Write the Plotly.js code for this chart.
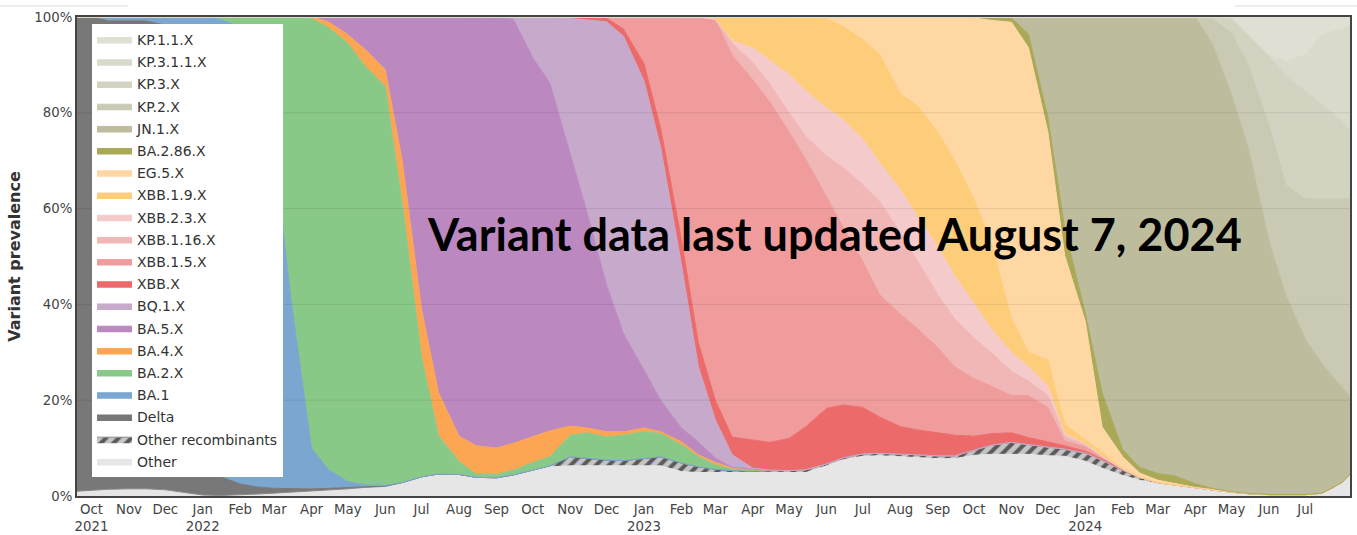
<!DOCTYPE html>
<html><head><meta charset="utf-8">
<script src="https://cdn.plot.ly/plotly-3.0.1.min.js"></script>
<style>html,body{margin:0;padding:0;background:#fff}#chart{width:1357px;height:535px}</style>
</head><body><div id="chart"></div>
<script>
const dates = [
'2021-09-19','2021-10-01','2021-10-15','2021-11-01','2021-11-15','2021-12-01','2021-12-15','2022-01-01','2022-01-15','2022-02-01',
'2022-02-15','2022-03-01','2022-03-15','2022-04-01','2022-04-15','2022-05-01','2022-05-15','2022-06-01','2022-06-15','2022-07-01',
'2022-07-15','2022-08-01','2022-08-15','2022-09-01','2022-09-15','2022-10-01','2022-10-15','2022-11-01','2022-11-15','2022-12-01',
'2022-12-15','2023-01-01','2023-01-15','2023-02-01','2023-02-15','2023-03-01','2023-03-15','2023-04-01','2023-04-15','2023-05-01',
'2023-05-15','2023-06-01','2023-06-15','2023-07-01','2023-07-15','2023-08-01','2023-08-15','2023-09-01','2023-09-15','2023-10-01',
'2023-10-15','2023-11-01','2023-11-15','2023-12-01','2023-12-15','2024-01-01','2024-01-15','2024-02-01','2024-02-15','2024-03-01',
'2024-03-15','2024-04-01','2024-04-15','2024-05-01','2024-05-15','2024-06-01','2024-06-15','2024-07-01','2024-07-15','2024-08-01',
'2024-08-07'];

const tickDates = ['2021-10-01','2021-11-01','2021-12-01','2022-01-01','2022-02-01','2022-03-01','2022-04-01','2022-05-01','2022-06-01','2022-07-01','2022-08-01','2022-09-01','2022-10-01','2022-11-01','2022-12-01','2023-01-01','2023-02-01','2023-03-01','2023-04-01','2023-05-01','2023-06-01','2023-07-01','2023-08-01','2023-09-01','2023-10-01','2023-11-01','2023-12-01','2024-01-01','2024-02-01','2024-03-01','2024-04-01','2024-05-01','2024-06-01','2024-07-01'];
const tickLabels = ['Oct<br>2021','Nov','Dec','Jan<br>2022','Feb','Mar','Apr','May','Jun','Jul','Aug','Sep','Oct','Nov','Dec','Jan<br>2023','Feb','Mar','Apr','May','Jun','Jul','Aug','Sep','Oct','Nov','Dec','Jan<br>2024','Feb','Mar','Apr','May','Jun','Jul'];

const other = [1.0,1.2,1.4,1.5,1.5,1.3,0.8,0.2,0.1,0.2, 0.4,0.6,0.8,1.0,1.2,1.5,1.8,2.0,2.8,4.0, 4.6,4.5,3.9,3.8,4.4,5.4,6.1,6.3,6.3,6.3, 6.3,6.3,6.3,5.1,4.9,4.9,4.9,4.9,4.8,4.8, 4.9,6.3,7.6,8.3,8.4,8.2,8.0,7.8,7.8,8.5, 8.7,8.7,8.7,8.4,8.3,7.3,5.8,4.3,3.3,2.6, 2.2,1.6,1.2,0.7,0.4,0.2,0.2,0.2,0.5,2.8, 4.5];
const otherRecombinants = [0,0,0,0,0,0,0,0,0,0, 0,0,0,0,0,0,0,0,0,0, 0,0,0,0,0,0,0.2,1.9,1.6,1.2, 1.1,1.6,1.9,1.8,1.2,0.7,0.4,0.3,0.5,0.5, 0.6,0.4,0.4,0.5,0.5,0.6,0.6,0.6,0.6,1.1, 1.9,2.5,2.1,1.8,1.5,1.7,1.7,1.1,0.6,0.2, 0.1,0.1,0.1,0.1,0.1,0.1,0.1,0.1,0.1,0.1, 0.1];
const delta = [99.0,98.8,97.8,97.7,97.7,97.0,72.0,10.0,4.0,2.3, 1.5,1.0,0.7,0.5,0.4,0.3,0.2,0.1,0,0, 0,0,0,0,0,0,0,0,0,0, 0,0,0,0,0,0,0,0,0,0, 0,0,0,0,0,0,0,0,0,0, 0,0,0,0,0,0,0,0,0,0, 0,0,0,0,0,0,0,0,0,0, 0];
const ba1 = [0,0,0.8,0.8,0.8,1.7,27.2,89.8,95.4,95.5, 88.1,70.4,39.5,8.5,3.9,1.2,0.3,0.1,0,0, 0,0,0,0,0,0,0,0,0,0, 0,0,0,0,0,0,0,0,0,0, 0,0,0,0,0,0,0,0,0,0, 0,0,0,0,0,0,0,0,0,0, 0,0,0,0,0,0,0,0,0,0, 0];
const ba2 = [0,0,0,0,0,0,0,0,0.5,2.0, 10.0,28.0,59.0,89.7,92.3,91.5,87.5,83.3,58.2,25.0, 8.0,2.7,0.7,0.7,1.0,1.6,1.9,4.5,5.3,4.8, 5.3,5.5,4.8,3.8,2.1,0.9,0.3,0.1,0,0, 0,0,0,0,0,0,0,0,0,0, 0,0,0,0,0,0,0,0,0,0, 0,0,0,0,0,0,0,0,0,0, 0];
const ba4 = [0,0,0,0,0,0,0,0,0,0, 0,0,0,0.3,1.2,1.8,3.5,3.5,9.0,10.0, 9.0,5.3,5.9,5.5,5.6,5.4,5.4,1.9,1.0,1.1, 0.7,0.8,0.4,0.6,0.4,0.5,0.3,0.2,0,0, 0,0,0,0,0,0,0,0,0,0, 0,0,0,0,0,0,0,0,0,0, 0,0,0,0,0,0,0,0,0,0, 0];
const ba5 = [0,0,0,0,0,0,0,0,0,0, 0,0,0,0,1.0,3.7,6.7,11.0,30.0,61.0, 78.4,87.5,89.5,90.0,88.5,79.1,72.9,57.1,44.9,30.7, 20.5,12.1,6.5,2.9,2.7,0.9,0.1,0.1,0,0, 0,0,0,0,0,0,0,0,0,0, 0,0,0,0,0,0,0,0,0,0, 0,0,0,0,0,0,0,0,0,0, 0];
const bq1 = [0,0,0,0,0,0,0,0,0,0, 0,0,0,0,0,0,0,0,0,0, 0,0,0,0,0.5,8.5,13.7,28.0,40.3,54.9, 62.1,60.4,52.6,34.1,15.7,8.0,2.6,0.2,0.1,0, 0,0,0,0,0,0,0,0,0,0, 0,0,0,0,0,0,0,0,0,0, 0,0,0,0,0,0,0,0,0,0, 0];
const xbb = [0,0,0,0,0,0,0,0,0,0, 0,0,0,0,0,0,0,0,0,0, 0,0,0,0,0,0,0,0.3,0.6,0.8, 1.5,3.6,4.0,5.2,5.0,4.1,3.7,5.9,5.8,6.7, 9.0,11.6,11.0,9.7,7.6,5.7,5.2,4.8,4.3,2.9, 2.4,2.0,1.4,1.1,0.7,0.4,0.2,0.1,0,0, 0,0,0,0,0,0,0,0,0,0, 0];
const xbb15 = [0,0,0,0,0,0,0,0,0,0, 0,0,0,0,0,0,0,0,0,0, 0,0,0,0,0,0,0,0,0,0.2, 2.5,9.7,23.5,46.5,68.0,79.5,79.7,75.2,71.1,64.0, 55.7,44.2,37.0,30.5,25.5,23.5,21.2,17.8,14.3,12.0, 10.0,7.8,8.8,7.2,1.0,0.9,0.3,0.1,0,0, 0,0,0,0,0,0,0,0,0,0, 0];
const xbb116 = [0,0,0,0,0,0,0,0,0,0, 0,0,0,0,0,0,0,0,0,0, 0,0,0,0,0,0,0,0,0,0, 0,0,0,0,0,0,2.5,3.6,3.7,4.0, 4.8,8.5,12.5,16.0,19.5,17.0,14.0,11.0,10.0,8.5, 7.0,5.0,3.0,2.5,1.0,0.4,0.2,0,0,0, 0,0,0,0,0,0,0,0,0,0, 0];
const xbb23 = [0,0,0,0,0,0,0,0,0,0, 0,0,0,0,0,0,0,0,0,0, 0,0,0,0,0,0,0,0,0,0, 0,0,0,0,0,0,0.5,3.0,5.0,8.0, 9.5,10.0,10.0,9.5,8.0,9.0,9.5,10.0,9.0,7.0, 5.0,4.0,3.0,2.0,0.5,0.2,0.1,0,0,0, 0,0,0,0,0,0,0,0,0,0, 0];
const xbb19 = [0,0,0,0,0,0,0,0,0,0, 0,0,0,0,0,0,0,0,0,0, 0,0,0,0,0,0,0,0,0,0, 0,0,0,0,0,0.5,5.0,6.5,9.0,12.0, 15.5,18.7,19.5,20.8,22.7,20.0,23.0,24.0,24.0,22.0, 18.0,7.0,3.0,5.4,2.0,0.9,0.7,0.2,0,0, 0,0,0,0,0,0,0,0,0,0, 0];
const eg5 = [0,0,0,0,0,0,0,0,0,0, 0,0,0,0,0,0,0,0,0,0, 0,0,0,0,0,0,0,0,0,0, 0,0,0,0,0,0,0,0,0,0, 0,0.3,2.0,4.7,7.8,16.0,18.5,24.0,30.0,37.8, 46.3,61.9,63.6,47.7,35.2,24.8,5.4,2.4,0.9,0.5, 0.3,0.1,0.05,0,0,0,0,0,0,0, 0];
const ba286 = [0,0,0,0,0,0,0,0,0,0, 0,0,0,0,0,0,0,0,0,0, 0,0,0,0,0,0,0,0,0,0, 0,0,0,0,0,0,0,0,0,0, 0,0,0,0,0,0,0,0,0,0.2, 0.7,0.9,2.9,3.1,5.6,1.8,7.1,1.5,1.2,1.4, 1.6,0.8,0.25,0.1,0.05,0,0,0,0,0, 0];
const jn1 = [0,0,0,0,0,0,0,0,0,0, 0,0,0,0,0,0,0,0,0,0, 0,0,0,0,0,0,0,0,0,0, 0,0,0,0,0,0,0,0,0,0, 0,0,0,0,0,0,0,0,0,0, 0,0.2,3.5,20.8,44.2,62.0,78.5,90.5,94.0,95.3, 95.8,97.4,92.9,82.9,71.95,52.9,41.5,32.5,26.9,19.6, 16.4];
const kp2 = [0,0,0,0,0,0,0,0,0,0, 0,0,0,0,0,0,0,0,0,0, 0,0,0,0,0,0,0,0,0,0, 0,0,0,0,0,0,0,0,0,0, 0,0,0,0,0,0,0,0,0,0, 0,0,0,0,0,0,0,0,0,0, 0,0,5.2,12.9,17.5,24.3,23.2,29.2,34.5,39.5, 41.0];
const kp3 = [0,0,0,0,0,0,0,0,0,0, 0,0,0,0,0,0,0,0,0,0, 0,0,0,0,0,0,0,0,0,0, 0,0,0,0,0,0,0,0,0,0, 0,0,0,0,0,0,0,0,0,0, 0,0,0,0,0,0,0,0,0,0, 0,0,0.2,3.1,6.0,14.3,22.8,22.5,19.8,16.0, 14.5];
const kp311 = [0,0,0,0,0,0,0,0,0,0, 0,0,0,0,0,0,0,0,0,0, 0,0,0,0,0,0,0,0,0,0, 0,0,0,0,0,0,0,0,0,0, 0,0,0,0,0,0,0,0,0,0, 0,0,0,0,0,0,0,0,0,0, 0,0,0,0,0.5,0.2,2.9,7.7,14.5,19.6, 21.5];
const kp11 = [0,0,0,0,0,0,0,0,0,0, 0,0,0,0,0,0,0,0,0,0, 0,0,0,0,0,0,0,0,0,0, 0,0,0,0,0,0,0,0,0,0, 0,0,0,0,0,0,0,0,0,0, 0,0,0,0,0,0,0,0,0,0, 0,0,0.1,0.2,3.5,8.0,9.3,7.8,3.7,2.4, 2.0];

const seriesNames = ['Other','Other recombinants','Delta','BA.1','BA.2.X','BA.4.X','BA.5.X','BQ.1.X','XBB.X','XBB.1.5.X','XBB.1.16.X','XBB.2.3.X','XBB.1.9.X','EG.5.X','BA.2.86.X','JN.1.X','KP.2.X','KP.3.X','KP.3.1.1.X','KP.1.1.X'];
const seriesValues = [other, otherRecombinants, delta, ba1, ba2, ba4, ba5, bq1, xbb, xbb15, xbb116, xbb23, xbb19, eg5, ba286, jn1, kp2, kp3, kp311, kp11];
const seriesColors = ['#e6e6e6','#b4b4b4','#787878','#7aa6d0','#88c987','#fca654','#bb89c0','#c7a9cb','#ec6a6a','#f09c9c','#f1b6b6','#f5caca','#fecd7a','#fed7a3','#a9a958','#bdbd9d','#cacab4','#d3d3c2','#dadacc','#dfdfd3'];
const yTickValues = [20,40,60,80];

const traces = seriesValues.map((vals, i) => {
  const t = {
    type: 'scatter', mode: 'lines', x: dates, y: vals, name: seriesNames[i],
    stackgroup: 'variants', legendgroup: 'g' + i, legendrank: 100 - i,
    fillcolor: seriesColors[i],
    line: {width: 1, color: seriesColors[i]},
    hoverinfo: 'skip'
  };
  if (i === 0) t.groupnorm = 'percent';
  if (i === 1) {
    t.fillpattern = {shape: '/', bgcolor: '#c4c4c4', fgcolor: '#5a5a5a', size: 9, solidity: 0.45};
    t.line = {width: 1, color: '#8a8a8a'};
  }
  return t;
});

const shapes = yTickValues.map(v => ({
  type: 'line', xref: 'paper', x0: 0, x1: 1, yref: 'y', y0: v, y1: v,
  line: {color: 'rgba(0,0,0,0.09)', width: 1}, layer: 'above'
}));
shapes.push({type:'line', xref:'paper', yref:'paper', x0:-0.0605, x1:0.04, y0:1.023, y1:1.023, line:{color:'#eeeeee', width:2}});
shapes.push({type:'line', xref:'paper', yref:'paper', x0:0.9097, x1:1.0055, y0:1.023, y1:1.023, line:{color:'#eeeeee', width:2}});

const layout = {
  width: 1357, height: 535,
  margin: {l: 77, r: 7, t: 17, b: 39, pad: 0},
  paper_bgcolor: '#ffffff', plot_bgcolor: '#ffffff',
  font: {family: 'DejaVu Sans, Verdana, sans-serif', size: 13.3, color: '#444'},
  showlegend: true,
  legend: {
    x: 0.0118, y: 0.9854, xanchor: 'left', yanchor: 'top',
    bgcolor: '#ffffff', borderwidth: 0,
    font: {size: 14, color: '#333'},
    traceorder: 'grouped', tracegroupgap: 1, itemwidth: 35
  },
  xaxis: {
    type: 'date', range: ['2021-09-19', '2024-08-07'],
    tickmode: 'array', tickvals: tickDates, ticktext: tickLabels, tickangle: 0,
    showgrid: false, zeroline: false, ticks: '',
    showline: true, mirror: true, linecolor: '#444', linewidth: 2,
    tickfont: {size: 13.3, color: '#444'}
  },
  yaxis: {
    range: [0, 100], dtick: 20, ticksuffix: '%',
    showgrid: false, zeroline: false, ticks: '',
    showline: true, mirror: true, linecolor: '#444', linewidth: 2,
    tickfont: {size: 13.3, color: '#444'},
    title: {text: 'Variant prevalence', font: {size: 16, color: '#333', weight: 'bold'}, standoff: 10}
  },
  shapes: shapes,
  annotations: [{
    text: 'Variant data last updated August 7, 2024',
    xref: 'paper', yref: 'paper', x: 0.5947, y: 0.547,
    xanchor: 'center', yanchor: 'middle', showarrow: false,
    font: {family: 'Lato, sans-serif', size: 45, color: '#000', weight: 'bold'}
  }]
};

Plotly.newPlot('chart', traces, layout, {staticPlot: true, displayModeBar: false});
</script>
</body></html>
